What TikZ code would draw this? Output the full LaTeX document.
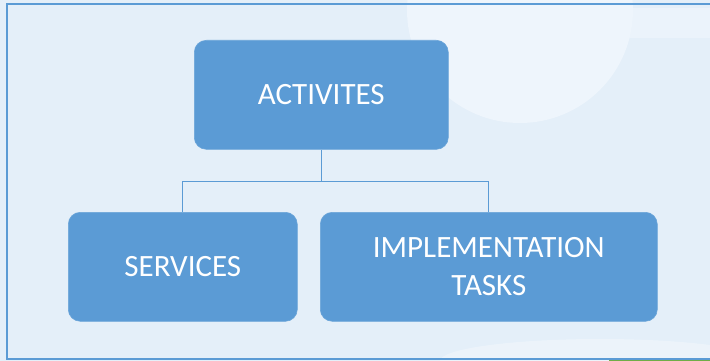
\documentclass[tikz,border=0pt]{standalone}
\usepackage{fontspec}
\setmainfont{Carlito}
\definecolor{bgblue}{HTML}{E4EFF9}
\definecolor{boxblue}{HTML}{5B9BD5}
\definecolor{lightcirc}{HTML}{EEF5FC}
\definecolor{framegreen}{HTML}{70AD47}
\tikzset{
  orgbox/.style={draw=boxblue!90!white, line width=0.6pt, fill=boxblue, rounded corners=12pt,
    text=white, font=\fontsize{31}{38}\selectfont, align=center, inner sep=0pt, anchor=north west},
  link/.style={draw=boxblue, line width=0.9pt},
}
\begin{document}
\begin{tikzpicture}[x=1pt,y=-1pt]
\useasboundingbox (0,0) rectangle (710,361);
\fill[bgblue] (0,0) rectangle (710,361);
% decorative background shapes
\fill[lightcirc] (520,10) circle[radius=113];
\fill[lightcirc, opacity=0.7] (625,8) rectangle (710,38);
\fill[white, opacity=0.3] (600,361) ellipse[x radius=160, y radius=22];
% frame
\draw[boxblue, line width=2pt] (730,4) -- (7,4) -- (7,358.5) -- (730,358.5);
\fill[framegreen] (609,360) rectangle (710,361);
% boxes
\node[orgbox, minimum width=254pt, minimum height=109pt] (act) at (194,40) {ACTIVITES};
\node[orgbox, minimum width=229pt, minimum height=109pt] (srv) at (68,212) {SERVICES};
\node[orgbox, minimum width=337pt, minimum height=109pt] (imp) at (320,212) {IMPLEMENTATION\\TASKS};
% connectors
\coordinate (j) at (act.south |- 0,181);
\draw[link] (act.south) -- (j) -| (srv.north);
\draw[link] (j) -| (imp.north);
\end{tikzpicture}
\end{document}
